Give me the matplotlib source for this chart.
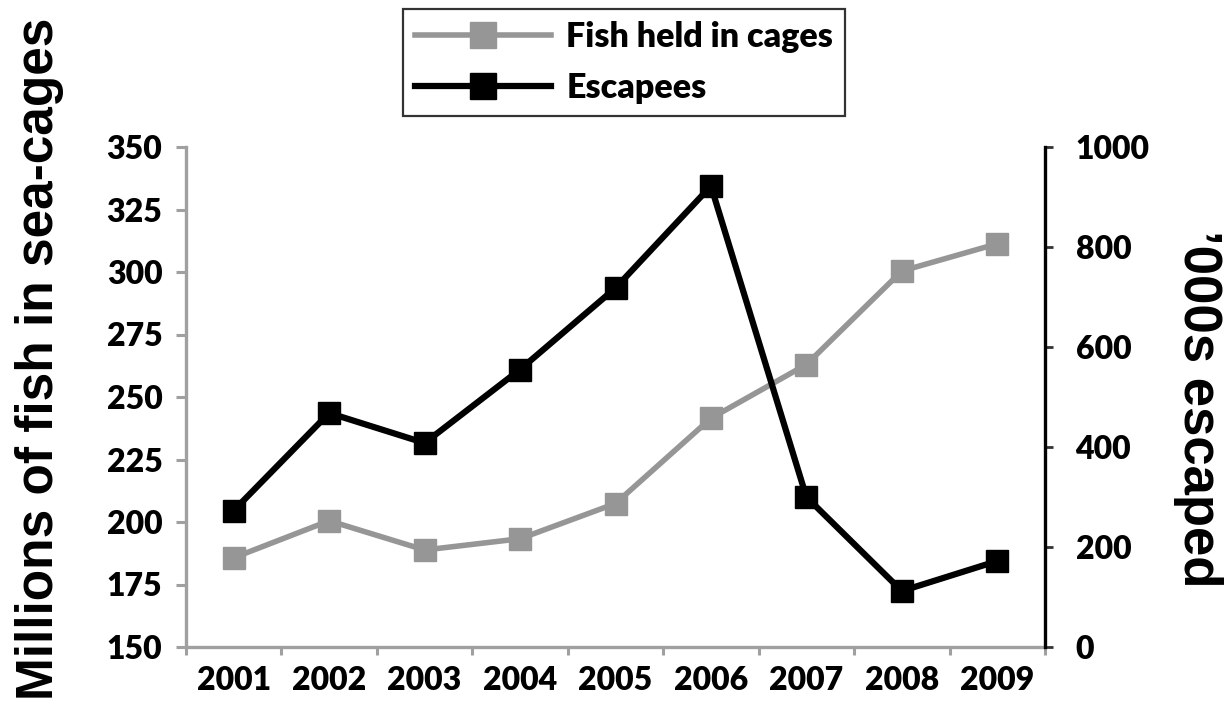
import numpy as np
import matplotlib
matplotlib.use("Agg")
import matplotlib.pyplot as plt

# ──────────────────────────────────────────────
# Data
# ──────────────────────────────────────────────
years = ["2001", "2002", "2003", "2004", "2005", "2006", "2007", "2008", "2009"]
fish_in_cages = [185.7, 200.5, 188.8, 193.3, 207.4, 241.5, 263.0, 300.4, 311.3]   # millions
escapees = [273, 468, 408, 555, 718, 922, 300, 112, 172]                          # '000s

left_ticks = [150, 175, 200, 225, 250, 275, 300, 325, 350]
right_ticks = [0, 200, 400, 600, 800, 1000]

GRAY = "#969696"
AXIS_GRAY = "#a0a0a0"
TICK_FONT = dict(family="Lato", weight="heavy", size=23)
TITLE_FONT = dict(family="Liberation Sans", weight="bold")

fig = plt.figure(figsize=(12.3, 7.17), dpi=100)
ax = fig.add_axes([186 / 1230, 1 - 647 / 717, (1045 - 186) / 1230, 500 / 717])
ax2 = ax.twinx()

x = np.arange(len(years))

# ──────────────────────────────────────────────
# Series
# ──────────────────────────────────────────────
l1, = ax.plot(x, fish_in_cages, color=GRAY, lw=4, marker="s", ms=16,
              mec=GRAY, mfc=GRAY, label="Fish held in cages", solid_joinstyle="miter")
l2, = ax2.plot(x, escapees, color="black", lw=4.5, marker="s", ms=16,
               mec="black", mfc="black", label="Escapees", solid_joinstyle="miter")

# ──────────────────────────────────────────────
# Axes styling
# ──────────────────────────────────────────────
ax.set_xlim(-0.5, len(years) - 0.5)
ax.set_ylim(150, 350)
ax2.set_ylim(0, 1000)

ax.set_yticks(left_ticks)
ax.set_yticklabels([str(t) for t in left_ticks], fontdict=TICK_FONT)
ax2.set_yticks(right_ticks)
ax2.set_yticklabels([str(t) for t in right_ticks], fontdict=TICK_FONT)

# tick marks sit between categories, labels at the category centres
ax.set_xticks(np.arange(-0.5, len(years), 1.0))
ax.set_xticklabels([])
ax.set_xticks(x, minor=True)
ax.set_xticklabels(years, minor=True, fontdict=TICK_FONT)
ax.tick_params(axis="x", which="major", direction="out", length=5.5, width=2.2,
               color=AXIS_GRAY)
ax.tick_params(axis="x", which="minor", length=0, pad=14)
ax.tick_params(axis="y", direction="out", length=7, width=2.2, color=AXIS_GRAY, pad=10)
ax2.tick_params(axis="y", direction="out", length=6, width=2, color="#333333", pad=16)

for s in ["top", "right"]:
    ax.spines[s].set_visible(False)
for s in ["left", "bottom"]:
    ax.spines[s].set_color(AXIS_GRAY)
    ax.spines[s].set_linewidth(2.4)
for s in ["top", "left", "bottom"]:
    ax2.spines[s].set_visible(False)
ax2.spines["right"].set_color("black")
ax2.spines["right"].set_linewidth(2.4)

# ──────────────────────────────────────────────
# Axis titles and legend
# ──────────────────────────────────────────────
fig.text(0.032, 0.50, "Millions of fish in sea-cages", rotation=90,
         ha="center", va="center", fontsize=37, **TITLE_FONT)
fig.text(0.974, 0.43, "\u2019000s escaped", rotation=-90,
         ha="center", va="center", fontsize=38, **TITLE_FONT)

leg = fig.legend(handles=[l1, l2], loc="upper left",
                 bbox_to_anchor=(403 / 1230, 1 - 9 / 717), borderaxespad=0,
                 prop=dict(family="Lato", weight="heavy", size=24.5),
                 frameon=True, fancybox=False, borderpad=0.35,
                 handlelength=4.0, handletextpad=0.45, labelspacing=0.55,
                 markerscale=1.2)
leg.get_frame().set_edgecolor("black")
leg.get_frame().set_linewidth(1.6)

fig.savefig("out.png", dpi=100)
